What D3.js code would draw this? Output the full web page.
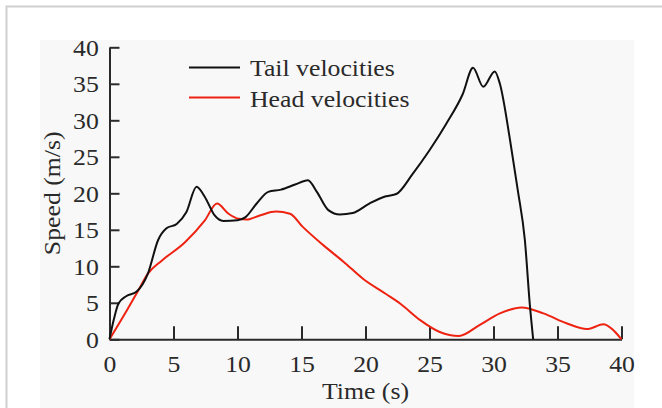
<!DOCTYPE html>
<html>
<head>
<meta charset="utf-8">
<script src="https://cdn.jsdelivr.net/npm/d3@7"></script>
<style>
  body { margin: 0; background: #fff; }
  svg text { font-family: "Times New Roman", "Liberation Serif", Times, "DejaVu Serif", serif; fill: #2a2a2a; }
</style>
</head>
<body>
<div id="chart"></div>
<script>
// tail velocity curve (black)
var tailTime  = [0, 0.35, 0.7, 1.3, 2.1, 3.0, 3.8, 4.45, 5.25, 6.0, 6.8, 7.45, 8.2, 8.9, 10.0, 10.6, 11.5, 12.4, 13.4, 14.5, 15.5, 16.2, 17.1, 18.0, 19.0, 20.3, 21.6, 22.4, 23.7, 25.0, 26.3, 27.6, 28.4, 29.2, 30.1, 30.5, 31.3, 31.9, 32.45, 32.85, 33.1];
var tailSpeed = [0, 2.8, 4.9, 5.9, 6.5, 9.0, 13.6, 15.2, 15.8, 17.4, 20.9, 19.5, 17.0, 16.2, 16.3, 16.7, 18.6, 20.2, 20.5, 21.2, 21.8, 20.2, 17.7, 17.1, 17.3, 18.6, 19.6, 19.9, 22.7, 25.9, 29.5, 33.6, 37.2, 34.6, 36.7, 35.0, 27.2, 20.4, 13.6, 4.5, 0];

// head velocity curve (red)
var headTime  = [0, 1.2, 2.25, 3.0, 4.1, 5.9, 7.45, 8.4, 9.3, 10.1, 10.7, 11.8, 13.0, 14.1, 15.1, 16.7, 18.3, 19.8, 21.6, 22.7, 24.3, 25.8, 27.3, 28.9, 30.5, 32.2, 33.9, 35.7, 37.3, 38.6, 39.2, 40];
var headSpeed = [0, 3.5, 6.7, 9.0, 10.8, 13.3, 16.3, 18.6, 17.2, 16.5, 16.4, 17.0, 17.5, 17.2, 15.4, 12.9, 10.6, 8.3, 6.2, 4.9, 2.6, 1.0, 0.45, 1.95, 3.55, 4.37, 3.55, 2.2, 1.4, 2.05, 1.5, 0];

var xTicks = [0, 5, 10, 15, 20, 25, 30, 35, 40];
var yTicks = [0, 5, 10, 15, 20, 25, 30, 35, 40];
var seriesNames = ["Tail velocities", "Head velocities"];

var width = 662, height = 408;
var fontSize = 23, stretch = "scale(1.12,1)"; // the original type is a wide Times
var svg = d3.select("#chart").append("svg")
    .attr("width", width)
    .attr("height", height);

// page frame and grey panel
svg.append("rect").attr("x", 6.5).attr("y", 6.5).attr("width", 700).attr("height", 500)
    .attr("fill", "#fff").attr("stroke", "#cfcfcf").attr("stroke-width", 2);
svg.append("rect").attr("x", 40).attr("y", 40).attr("width", 594).attr("height", 380)
    .attr("fill", "#f8f8f8");

var x = d3.scaleLinear().domain([0, 40]).range([109.5, 621.5]);
var y = d3.scaleLinear().domain([0, 40]).range([339.3, 47.3]);

var tailData = tailTime.map(function(t, i) { return {t: t, v: tailSpeed[i]}; });
var headData = headTime.map(function(t, i) { return {t: t, v: headSpeed[i]}; });

// axes, ticks pointing inward
var xAxis = d3.axisBottom(x).tickValues(xTicks).tickSizeInner(-13).tickSizeOuter(0).tickPadding(16);
var yAxis = d3.axisLeft(y).tickValues(yTicks).tickSizeInner(-10).tickSizeOuter(0).tickPadding(9.5);

var gx = svg.append("g").attr("transform", "translate(0," + y(0) + ")").call(xAxis);
var gy = svg.append("g").attr("transform", "translate(" + x(0) + ",0)").call(yAxis);

[gx, gy].forEach(function(g) {
    g.attr("font-family", null);
    g.selectAll("path, line").attr("stroke", "#2a2a2a").attr("stroke-width", 2);
    g.selectAll("text").attr("font-size", fontSize).attr("fill", "#2a2a2a").attr("transform", stretch);
});
gy.selectAll("text").attr("dy", "0.35em");

var line = d3.line()
    .x(function(d) { return x(d.t); })
    .y(function(d) { return y(d.v); })
    .curve(d3.curveMonotoneX);

svg.append("path").datum(headData)
    .attr("d", line).attr("fill", "none")
    .attr("stroke", "#ee2211").attr("stroke-width", 2);

svg.append("path").datum(tailData)
    .attr("d", line).attr("fill", "none")
    .attr("stroke", "#111").attr("stroke-width", 2);

// legend
var legendColors = ["#111", "#ee2211"];
var legend = svg.append("g");
seriesNames.forEach(function(name, i) {
    legend.append("line")
        .attr("x1", 189).attr("x2", 240)
        .attr("y1", 67.5 + i * 30).attr("y2", 67.5 + i * 30)
        .attr("stroke", legendColors[i]).attr("stroke-width", 2);
    legend.append("text")
        .attr("transform", "translate(250," + (76 + i * 30.5) + ") " + stretch)
        .attr("font-size", fontSize)
        .text(name);
});

// axis titles
svg.append("text")
    .attr("transform", "translate(" + (x(0) + x(40)) / 2 + ",399) " + stretch)
    .attr("text-anchor", "middle").attr("font-size", fontSize)
    .text("Time (s)");

svg.append("text")
    .attr("transform", "translate(60," + (y(0) + y(40)) / 2 + ") rotate(-90) " + stretch)
    .attr("text-anchor", "middle").attr("font-size", fontSize)
    .text("Speed (m/s)");
</script>
</body>
</html>
